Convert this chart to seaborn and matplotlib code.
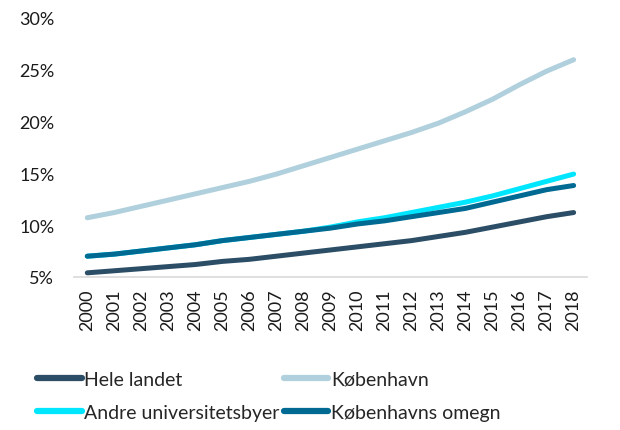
import numpy as np
import pandas as pd
import matplotlib.pyplot as plt
import seaborn as sns
from matplotlib.ticker import FuncFormatter

years = list(range(2000, 2019))
hele_landet = [5.4, 5.6, 5.8, 6.0, 6.2, 6.5, 6.7, 7.0, 7.3, 7.6, 7.9, 8.2, 8.5, 8.9, 9.3, 9.8, 10.3, 10.8, 11.2]
koebenhavn = [10.7, 11.2, 11.8, 12.4, 13.0, 13.6, 14.2, 14.9, 15.7, 16.5, 17.3, 18.1, 18.9, 19.8, 20.9, 22.1, 23.5, 24.8, 25.9]
andre_uni = [7.0, 7.2, 7.5, 7.8, 8.1, 8.5, 8.8, 9.1, 9.4, 9.8, 10.3, 10.7, 11.2, 11.7, 12.2, 12.8, 13.5, 14.2, 14.9]
kbh_omegn = [7.0, 7.2, 7.5, 7.8, 8.1, 8.5, 8.8, 9.1, 9.4, 9.7, 10.1, 10.4, 10.8, 11.2, 11.6, 12.2, 12.8, 13.4, 13.8]

series = ['Hele landet', 'København', 'Andre universitetsbyer', 'Københavns omegn']
colors = ['#2b4e66', '#afd0dc', '#00e6ff', '#006a93']

df = pd.DataFrame({'Year': years, 'Hele landet': hele_landet, 'København': koebenhavn,
                   'Andre universitetsbyer': andre_uni, 'Københavns omegn': kbh_omegn})
long = df.melt(id_vars='Year', var_name='Område', value_name='Andel')
long['pos'] = long['Year'] - years[0]

sns.set_theme(style='white')
plt.rcParams['font.family'] = ['Lato', 'DejaVu Sans']

fig = plt.figure(figsize=(6.2, 4.31), dpi=100)
ax = fig.add_axes([0.119, 0.355, 0.828, 0.603])

sns.lineplot(data=long, x='pos', y='Andel', hue='Område', hue_order=series,
             palette=dict(zip(series, colors)), linewidth=3.6, ax=ax,
             solid_capstyle='round')

ax.set_xlim(-0.5, len(years) - 0.5)
ax.set_ylim(5, 30)
ax.set_yticks([5, 10, 15, 20, 25, 30])
ax.yaxis.set_major_formatter(FuncFormatter(lambda v, p: f'{v:.0f}%'))
ax.set_xticks(range(len(years)))
ax.set_xticklabels([str(y) for y in years], rotation=90)
ax.tick_params(axis='both', length=0, labelsize=13, colors='#1a1a1a')
ax.tick_params(axis='x', pad=8)
ax.tick_params(axis='y', pad=14)
ax.set_xlabel('')
ax.set_ylabel('')
for s in ['top', 'right', 'left']:
    ax.spines[s].set_visible(False)
ax.spines['bottom'].set_color('#d9d9d9')
ax.spines['bottom'].set_linewidth(1.2)

# legend is filled row by row in the reference
handles, labels = ax.get_legend_handles_labels()
order = [0, 2, 1, 3]
handles = [handles[i] for i in order]
labels = [labels[i] for i in order]
for h in handles:
    h.set_linewidth(4.5)
    h.set_solid_capstyle('round')
ax.legend(handles, labels, ncol=2, loc='upper left', bbox_to_anchor=(-0.072, -0.36),
          frameon=False, fontsize=14, handlelength=2.3, handletextpad=0.15,
          columnspacing=0.2, labelspacing=0.85, borderpad=0, borderaxespad=0)

fig.savefig('out.png', dpi=100)
